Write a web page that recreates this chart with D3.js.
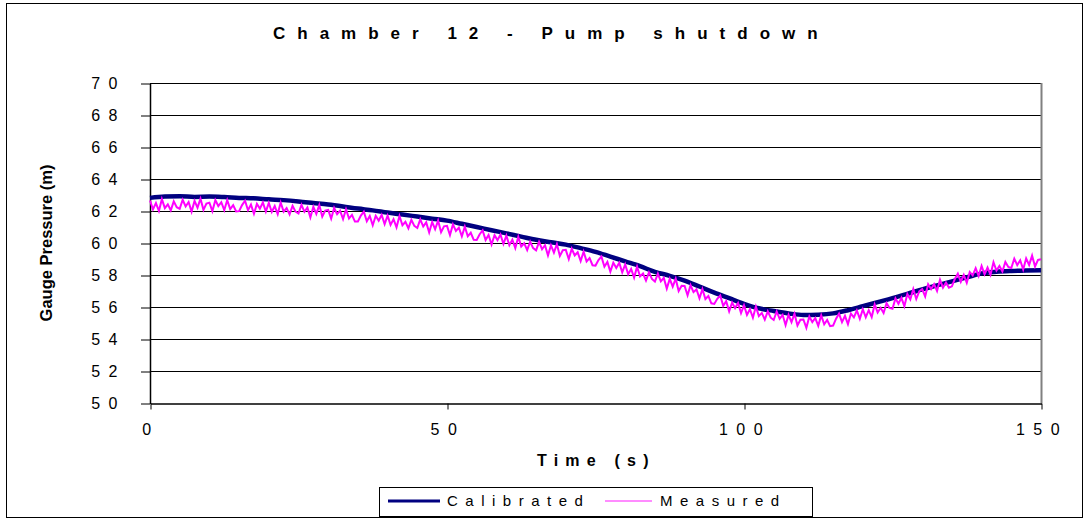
<!DOCTYPE html>
<html><head><meta charset="utf-8">
<script src="https://cdn.jsdelivr.net/npm/d3@7"></script>
<style>
body{margin:0;background:#fff;}
text{font-family:"Liberation Sans",Arial,sans-serif;fill:#000;}
</style>
</head><body>
<svg id="c" width="1085" height="520"></svg>
<script>
// ---- data ----
const chartTitle = "Chamber 12 - Pump shutdown";
const xTitle = "Time (s)";
const yTitle = "Gauge Pressure (m)";
const seriesNames = ["Calibrated", "Measured"];
const xTicks = [0, 50, 100, 150];
const yTicks = [50, 52, 54, 56, 58, 60, 62, 64, 66, 68, 70];

const calibratedTime = [0,2.5,5,7.5,10,12.5,15,17.5,20,22.5,25,27.5,30,32.5,35,37.5,40,42.5,45,47.5,50,52.5,55,57.5,60,62.5,65,67.5,70,72.5,75,77.5,80,82.5,85,87.5,90,92.5,95,97.5,100,102.5,105,107.5,110,112.5,115,117.5,120,122.5,125,127.5,130,132.5,135,137.5,140,142.5,145,147.5,150];
const calibratedValues = [62.82,62.90,62.92,62.88,62.90,62.87,62.82,62.79,62.73,62.68,62.60,62.50,62.40,62.28,62.15,62.04,61.90,61.78,61.65,61.52,61.40,61.20,61.00,60.80,60.60,60.40,60.20,60.05,59.90,59.68,59.45,59.15,58.85,58.55,58.20,57.95,57.65,57.28,56.90,56.55,56.20,55.92,55.75,55.60,55.50,55.52,55.60,55.80,56.05,56.30,56.55,56.82,57.10,57.35,57.60,57.85,58.10,58.20,58.25,58.28,58.30];

// measured: one reading every 0.5 s from 0 to 150 s
const measuredStep = 0.5;
const measuredValues = [
62.66,62.10,62.49,62.00,62.74,62.18,62.42,62.04,62.60,62.24,
62.14,62.70,62.28,62.56,61.96,62.63,62.21,62.77,62.07,62.46,
62.52,61.99,62.68,62.31,62.55,62.05,62.68,62.12,62.37,61.97,
61.99,62.37,62.64,62.05,62.40,61.83,62.44,62.15,62.53,61.96,
62.51,61.94,62.31,61.81,62.53,61.96,62.18,61.79,62.33,61.96,
61.84,62.39,61.95,62.22,61.60,62.26,61.82,62.37,61.65,62.03,
62.07,61.52,62.19,61.80,62.02,61.50,62.11,61.53,61.76,61.34,
61.34,61.71,61.96,61.36,61.69,61.11,61.70,61.40,61.76,61.18,
61.71,61.13,61.49,60.98,61.69,61.11,61.32,60.92,61.45,61.07,
60.94,61.48,61.03,61.29,60.66,61.31,60.86,61.40,60.67,61.04,
61.07,60.50,61.16,60.75,60.96,60.42,61.02,60.42,60.64,60.20,
60.19,60.55,60.79,60.18,60.50,59.91,60.49,60.18,60.53,59.94,
60.46,59.86,60.21,59.68,60.38,59.78,59.98,59.56,60.08,59.68,
59.54,60.07,59.61,59.86,59.22,59.86,59.40,59.93,59.19,59.55,
59.57,58.99,59.64,59.22,59.42,58.87,59.46,58.85,59.06,58.61,
58.59,58.93,59.15,58.52,58.82,58.21,58.77,58.44,58.77,58.16,
58.66,58.05,58.38,57.84,58.52,57.91,58.09,57.66,58.16,57.75,
57.59,58.09,57.60,57.82,57.15,57.76,57.27,57.77,57.00,57.33,
57.32,56.73,57.36,56.93,57.11,56.55,57.12,56.50,56.69,56.23,
56.19,56.51,56.72,56.07,56.36,55.73,56.28,55.93,56.25,55.62,
56.11,55.51,55.86,55.33,56.03,55.43,55.63,55.21,55.73,55.33,
55.19,55.72,55.26,55.51,54.87,55.51,55.05,55.58,54.84,55.20,
55.22,54.70,55.41,55.05,55.31,54.82,55.47,54.92,55.19,54.80,
54.84,55.27,55.59,55.05,55.45,54.93,55.59,55.35,55.78,55.26,
55.86,55.36,55.80,55.37,56.16,55.66,55.95,55.63,56.24,55.94,
55.89,56.54,56.20,56.57,56.05,56.81,56.47,57.12,56.50,56.98,
57.12,56.66,57.42,57.12,57.43,57.00,57.70,57.21,57.53,57.20,
57.29,57.75,58.09,57.58,58.00,57.51,58.19,57.98,58.43,57.94,
58.56,58.04,58.47,58.02,58.80,58.28,58.56,58.22,58.82,58.50,
58.44,59.02,58.62,58.92,58.34,59.03,58.63,59.21,58.53,58.94,
58.98
];

// ---- drawing ----
const svg = d3.select("#c");
const x = d3.scaleLinear().domain([0, 150]).range([150, 1041]);
const y = d3.scaleLinear().domain([50, 70]).range([403, 83]);
const FONT = "Liberation Sans, Arial, sans-serif";

// outer border
svg.append("rect").attr("x", 6.5).attr("y", 3.5).attr("width", 1076).attr("height", 514)
  .attr("fill", "#fff").attr("stroke", "#000").attr("stroke-width", 1);

// gridlines
svg.append("g").selectAll("line").data(yTicks.filter(d => d > 50)).join("line")
  .attr("x1", x(0)).attr("x2", x(150))
  .attr("y1", d => Math.round(y(d)) + 0.5).attr("y2", d => Math.round(y(d)) + 0.5)
  .attr("stroke", "#000").attr("stroke-width", 1);

// right plot border
svg.append("line").attr("x1", x(150) + 0.5).attr("x2", x(150) + 0.5)
  .attr("y1", y(70)).attr("y2", y(50)).attr("stroke", "#808080").attr("stroke-width", 2);

// y axis
const yAxis = svg.append("g").attr("transform", `translate(${x(0)},0.5)`)
  .call(d3.axisLeft(y).tickValues(yTicks).tickSize(9).tickSizeOuter(0).tickPadding(15).tickFormat(d3.format("d")));
yAxis.select(".domain").attr("stroke", "#000").attr("stroke-width", 1.5);
yAxis.selectAll(".tick line").attr("stroke", "#000");
yAxis.selectAll(".tick text").style("font-size", "16px").style("letter-spacing", "8.5px")
  .style("font-family", FONT).attr("fill", "#000");

// x axis
const xAxis = svg.append("g").attr("transform", `translate(0.5,${Math.round(y(50)) + 0.5})`)
  .call(d3.axisBottom(x).tickValues(xTicks).tickSize(6).tickSizeOuter(0).tickPadding(14).tickFormat(d3.format("d")));
xAxis.select(".domain").attr("stroke", "#000").attr("stroke-width", 1.5);
xAxis.selectAll(".tick line").attr("stroke", "#000");
xAxis.selectAll(".tick text").style("font-size", "16px").style("letter-spacing", "8.5px")
  .style("font-family", FONT).attr("fill", "#000");

// lines
const calData = calibratedTime.map((t, i) => [t, calibratedValues[i]]);
const measData = measuredValues.map((v, i) => [i * measuredStep, v]);

svg.append("path").datum(calData)
  .attr("d", d3.line().x(d => x(d[0])).y(d => y(d[1])).curve(d3.curveMonotoneX))
  .attr("fill", "none").attr("stroke", "#000080").attr("stroke-width", 4.5).attr("stroke-linejoin", "round");
svg.append("path").datum(measData)
  .attr("d", d3.line().x(d => x(d[0])).y(d => y(d[1])))
  .attr("fill", "none").attr("stroke", "#ff00ff").attr("stroke-width", 2);

// titles
svg.append("text").attr("x", 273).attr("y", 39).text(chartTitle)
  .style("font-size", "17px").style("font-weight", "bold").style("letter-spacing", "12px");
svg.append("text").attr("x", 537).attr("y", 466).text(xTitle)
  .style("font-size", "16px").style("font-weight", "bold").style("letter-spacing", "7.2px");
svg.append("text").attr("transform", "translate(52,243) rotate(-90)").attr("text-anchor", "middle")
  .text(yTitle).style("font-size", "16.5px").style("font-weight", "bold");

// legend
const lg = svg.append("g");
lg.append("rect").attr("x", 379.5).attr("y", 487.5).attr("width", 433).attr("height", 29)
  .attr("fill", "#fff").attr("stroke", "#000").attr("stroke-width", 1);
const legendItems = [
  {name: seriesNames[0], color: "#000080", w: 3, x1: 388, x2: 440, tx: 447},
  {name: seriesNames[1], color: "#ff66ff", w: 1.5, x1: 605, x2: 652, tx: 660}
];
legendItems.forEach(it => {
  lg.append("line").attr("x1", it.x1).attr("x2", it.x2).attr("y1", 501).attr("y2", 501)
    .attr("stroke", it.color).attr("stroke-width", it.w);
  lg.append("text").attr("x", it.tx).attr("y", 506).text(it.name)
    .style("font-size", "15px").style("letter-spacing", "7.5px");
});
</script>
</body></html>
